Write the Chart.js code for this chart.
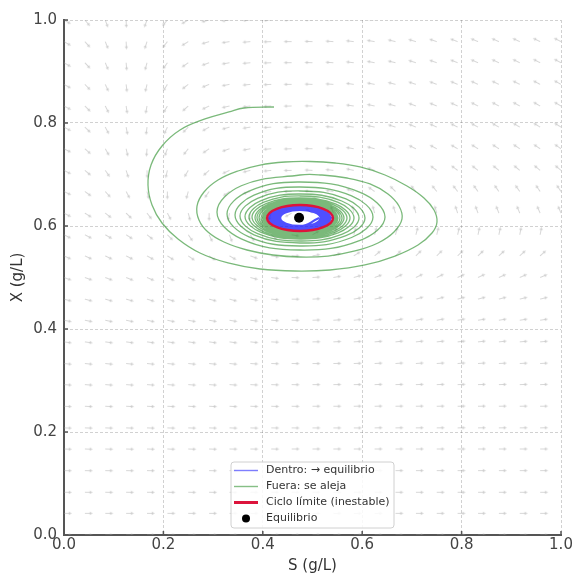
<!DOCTYPE html>
<html>
<head>
<meta charset="utf-8">
<script src="https://cdn.jsdelivr.net/npm/chart.js@4.4.0/dist/chart.umd.min.js"></script>
<style>
  html, body { margin: 0; padding: 0; background: #fff; }
  canvas { display: block; }
</style>
</head>
<body>
<canvas id="phaseChart" width="576" height="575"></canvas>
<script>
// Trayectoria exterior (verde): S y X, en orden de recorrido
const greenS = [
  .4225,.3622,.3320,.2837,.2334,.1972,.1751,.1690,.1771,.1972,.2294,.2736,.3300,.3944,.4648,.5352,.6056,.6660,.7123,
  .7404,.7505,.7445,.7243,.6901,.6459,.5956,.5453,.4950,.4447,.3944,.3501,.3099,.2817,.2676,.2716,.2897,.3219,.3682,.4205,
  .4748,.5312,.5855,.6318,.6640,.6801,.6740,.6519,.6157,.5694,.5191,.4748,
  .3567,.3078,.3567,.4748,.5958,.6459,.5958,.4748,
  .3710,.3280,.3710,.4748,.5787,.6217,.5787,.4748,
  .3823,.3441,.3823,.4748,.5674,.6056,.5674,.4748,
  .3895,.3541,.3895,.4748,.5588,.5936,.5588,.4748,
  .3966,.3642,.3966,.4748,.5517,.5835,.5517,.4748,
  .4022,.3722,.4022,.4748,.5461,.5755,.5461,.4748,
  .4066,.3783,.4066,.4748,.5416,.5694,.5416,.4748,
  .4109,.3843,.4109,.4748,.5374,.5634,.5374,.4748,
  .4137,.3883,.4137,.4748,.5346,.5594,.5346,.4748,
  .4165,.3924,.4165,.4748,.5318,.5553,.5318,.4748,
  .4193,.3964,.4193,.4748,.5290,.5513,.5290,.4748,
  .4215,.3994,.4215,.4748,.5276,.5493,.5276,.4748,
  .4229,.4014,.4229,.4748,.5262,.5473,.5262,.4748,
  .4241,.4030,.4241,.4748,.5249,.5457,.5249,.4748,
  .4252,.4044,.4252,.4748,.5239,.5443,.5239,.4748,
  .4260,.4056,.4260,.4748,.5231,.5433,.5231,.4748
];
const greenX = [
  .8311,.8291,.8214,.8078,.7864,.7553,.7184,.6796,.6408,.6058,.5748,.5476,.5282,.5165,.5126,.5146,.5243,.5417,.5631,
  .5864,.6078,.6311,.6544,.6777,.6990,.7146,.7223,.7252,.7243,.7184,.7068,.6893,.6660,.6388,.6117,.5883,.5689,.5534,.5437,
  .5398,.5417,.5515,.5670,.5883,.6136,.6388,.6621,.6816,.6932,.6990,.6990,
  .6781,.6272,.5750,.5534,.5722,.6175,.6654,.6854,
  .6672,.6233,.5794,.5612,.5777,.6175,.6586,.6757,
  .6598,.6214,.5829,.5670,.5812,.6155,.6526,.6680,
  .6538,.6194,.5850,.5709,.5839,.6155,.6485,.6621,
  .6493,.6184,.5876,.5748,.5868,.6155,.6458,.6583,
  .6462,.6175,.5887,.5767,.5882,.6155,.6429,.6544,
  .6435,.6175,.5901,.5786,.5895,.6155,.6416,.6524,
  .6419,.6165,.5911,.5806,.5909,.6155,.6402,.6505,
  .6406,.6165,.5924,.5816,.5915,.6155,.6388,.6485,
  .6392,.6165,.5922,.5825,.5922,.6155,.6383,.6476,
  .6383,.6155,.5928,.5835,.5928,.6155,.6375,.6466,
  .6375,.6155,.5936,.5845,.5936,.6155,.6369,.6456,
  .6369,.6155,.5942,.5854,.5942,.6155,.6361,.6447,
  .6361,.6155,.5950,.5864,.5950,.6155,.6355,.6437,
  .6355,.6155,.5955,.5874,.5955,.6155,.6348,.6427,
  .6348,.6155,.5961,.5880,.5961,.6155,.6344,.6421
];

// Trayectoria interior (azul): del ciclo hacia el equilibrio
const blueS = [
  .5392,.4748,.4119,.4748,.5363,.4748,.4148,.4748,.5334,.4748,.4177,.4748,.5305,.4748,.4206,.4748,.5276,.4748,.4235,
  .4748,.5247,.4748,.4264,.4748,.5219,.4748,.4293,.4748,.5190,.4748,.4322,.4748,.5160,.4748,.4351,.4748,.5132
];
const blueX = [
  .6155,.6396,.6155,.5920,.6155,.6385,.6155,.5931,.6155,.6375,.6155,.5941,.6155,.6364,.6155,.5951,.6155,.6354,.6155,
  .5962,.6155,.6344,.6155,.5972,.6155,.6333,.6155,.5983,.6155,.6323,.6155,.5993,.6155,.6313,.6155,.6003,.6155
];

// Ciclo limite (cerrado; primer y ultimo tramo solo para las tangentes)
const cycleS = [.5217,.5412,.5217,.4748,.4280,.4085,.4280,.4748,.5217,.5412,.5217];
const cycleX = [.5977,.6155,.6334,.6408,.6334,.6155,.5977,.5903,.5977,.6155,.6334];

// Punto de equilibrio
const eqS = [0.473];
const eqX = [0.616];

// Campo de direcciones: malla y angulos (grados)
const fieldS = [0, .042, .083, .125, .167, .208, .25, .292, .333, .375, .417, .458, .5,
                .542, .583, .625, .667, .708, .75, .792, .833, .875, .917, .958, 1];
const fieldX = [1, .958, .917, .875, .833, .792, .75, .708, .667, .625, .583, .542, .5,
                .458, .417, .375, .333, .292, .25, .208, .167, .125, .083, .042, 0];
const fieldAngles = [
  [330,310,290,272,250,230,210,195,188,184,182,180,178,176,173,170,167,164,162,160,158,157,156,155,154],
  [330,312,292,273,252,232,212,197,189,185,182,180,178,176,173,170,166,163,161,159,157,156,155,154,153],
  [330,313,293,275,255,235,215,200,190,185,182,180,178,176,173,169,166,162,160,158,156,155,154,153,152],
  [331,314,295,277,257,238,218,203,191,186,183,180,178,176,172,169,165,161,159,157,155,154,153,152,151],
  [332,315,297,279,260,240,222,206,193,187,183,181,179,176,172,168,164,159,157,155,153,152,151,150,150],
  [332,316,298,281,263,245,226,210,196,189,184,182,179,176,172,167,162,157,155,153,151,150,149,148,148],
  [333,318,300,283,266,250,232,215,200,191,185,182,179,175,170,165,158,154,152,150,148,147,146,146,145],
  [333,320,305,288,272,257,240,222,205,194,186,181,177,174,168,160,150,145,144,143,142,141,140,140,140],
  [334,324,312,298,284,270,255,235,215,198,188,181,176,170,160,145,135,130,128,127,126,125,125,124,124],
  [332,328,322,316,308,298,285,270,258,262,250,210,150,110,100,105,108,105,106,108,110,111,112,113,113],
  [333,332,330,327,322,315,305,295,290,300,320,350,30,60,72,75,75,75,76,77,78,78,79,79,80],
  [335,335,334,333,331,328,325,325,330,340,350,0,10,22,32,40,44,45,45,44,44,43,43,42,42],
  [340,340,339,338,337,336,336,338,340,345,352,358,4,10,16,20,25,26,26,25,25,24,24,23,23],
  [345,345,344,344,343,343,344,345,345,350,355,0,3,7,10,13,15,16,16,15,15,15,14,14,14],
  [349,349,348,348,348,348,349,350,350,353,356,359,2,4,6,8,10,10,10,10,9,9,9,9,9],
  [352,352,352,352,352,352,352,352,352,354,357,359,1,3,4,5,6,6,6,6,6,6,5,5,5],
  [354,354,354,354,354,354,354,354,354,356,358,359,0,1,2,3,4,4,4,4,4,3,3,3,3],
  [356,356,356,356,356,356,356,356,356,357,358,359,0,1,1,2,2,2,2,2,2,2,2,2,2],
  [357,357,357,357,357,357,357,357,357,358,358,359,0,0,1,1,1,1,1,1,1,1,1,1,1],
  [358,358,358,358,358,358,358,358,358,358,359,359,0,0,0,1,1,1,1,1,1,1,1,1,1],
  [358,358,358,358,358,358,358,358,359,359,359,0,0,0,0,0,0,0,0,0,0,0,0,0,0],
  [359,359,359,359,359,359,359,359,359,359,0,0,0,0,0,0,0,0,0,0,0,0,0,0,0],
  [359,359,359,359,359,359,359,359,0,0,0,0,0,0,0,0,0,0,0,0,0,0,0,0,0],
  [0,0,0,0,0,0,0,0,0,0,0,0,0,0,0,0,0,0,0,0,0,0,0,0,0],
  [0,0,0,0,0,0,0,0,0,0,0,0,0,0,0,0,0,0,0,0,0,0,0,0,0]
];

const axisTicks = [0, 0.2, 0.4, 0.6, 0.8, 1.0];

const toPoints = (xs, ys) => xs.map((x, i) => ({ x: x, y: ys[i] }));

// flecha pequeña, la cola en el centro del lienzo (pivot = tail)
function makeArrow(len) {
  const c = document.createElement("canvas");
  c.width = len * 2 + 2;
  c.height = 7;
  const g = c.getContext("2d");
  const cx = len + 1, cy = 3.5;
  g.strokeStyle = "rgba(160,160,160,0.42)";
  g.fillStyle = "rgba(160,160,160,0.42)";
  g.lineWidth = 1;
  g.beginPath();
  g.moveTo(cx, cy);
  g.lineTo(cx + len - 2.5, cy);
  g.stroke();
  g.beginPath();
  g.moveTo(cx + len, cy);
  g.lineTo(cx + len - 3.2, cy - 1.8);
  g.lineTo(cx + len - 3.2, cy + 1.8);
  g.closePath();
  g.fill();
  return c;
}

const arrowPoints = [];
const arrowRot = [];
fieldX.forEach((xv, r) => {
  fieldS.forEach((sv, c) => {
    arrowPoints.push({ x: sv, y: xv });
    arrowRot.push(-fieldAngles[r][c]);
  });
});

const hidden = "rgba(0,0,0,0)";
const lastCycle = cycleS.length - 1;

// legend entries
const legendItems = [
  { label: "Dentro: → equilibrio", kind: "line", color: "rgba(0,0,255,0.5)", width: 1.4 },
  { label: "Fuera: se aleja", kind: "line", color: "rgba(34,139,34,0.55)", width: 1.4 },
  { label: "Ciclo límite (inestable)", kind: "line", color: "crimson", width: 3 },
  { label: "Equilibrio", kind: "dot", color: "#000", width: 4 }
];

const legendBox = {
  id: "legendBox",
  afterDraw(chart) {
    const { ctx, chartArea } = chart;
    const w = 163, h = 66, rowH = 16;
    const x0 = (chartArea.left + chartArea.right) / 2 - w / 2;
    const y0 = chartArea.bottom - 7 - h;
    ctx.save();
    ctx.beginPath();
    ctx.roundRect(x0, y0, w, h, 3);
    ctx.fillStyle = "rgba(255,255,255,0.85)";
    ctx.fill();
    ctx.strokeStyle = "#d0d0d0";
    ctx.lineWidth = 1;
    ctx.stroke();
    ctx.font = '11px "DejaVu Sans"';
    ctx.textBaseline = "middle";
    legendItems.forEach((it, i) => {
      const y = y0 + 8.5 + rowH * i;
      if (it.kind === "line") {
        ctx.strokeStyle = it.color;
        ctx.lineWidth = it.width;
        ctx.beginPath();
        ctx.moveTo(x0 + 3, y);
        ctx.lineTo(x0 + 27, y);
        ctx.stroke();
      } else {
        ctx.fillStyle = it.color;
        ctx.beginPath();
        ctx.arc(x0 + 15, y, it.width, 0, Math.PI * 2);
        ctx.fill();
      }
      ctx.fillStyle = "#333";
      ctx.fillText(it.label, x0 + 35, y);
    });
    ctx.restore();
  }
};

// ticks hacia dentro, estilo matplotlib
const innerTicks = {
  id: "innerTicks",
  afterDraw(chart) {
    const { ctx, chartArea, scales } = chart;
    ctx.save();
    ctx.strokeStyle = "#555";
    ctx.lineWidth = 1.5;
    axisTicks.forEach(v => {
      const px = scales.x.getPixelForValue(v);
      const py = scales.y.getPixelForValue(v);
      ctx.beginPath();
      ctx.moveTo(px, chartArea.bottom);
      ctx.lineTo(px, chartArea.bottom - 4);
      ctx.moveTo(chartArea.left, py);
      ctx.lineTo(chartArea.left + 4, py);
      ctx.stroke();
    });
    ctx.restore();
  }
};

const tickFont = { family: "DejaVu Sans", size: 15 };

new Chart(document.getElementById("phaseChart").getContext("2d"), {
  type: "scatter",
  data: {
    datasets: [
      {
        label: "Equilibrio",
        data: toPoints(eqS, eqX),
        pointRadius: 5,
        pointBackgroundColor: "#000",
        pointBorderWidth: 0,
        order: 0
      },
      {
        type: "line",
        label: "Ciclo límite (inestable)",
        data: toPoints(cycleS, cycleX),
        borderColor: "crimson",
        borderWidth: 2.5,
        pointRadius: 0,
        tension: 0.4,
        fill: false,
        segment: {
          borderColor: c => (c.p0DataIndex === 0 || c.p1DataIndex === lastCycle) ? hidden : undefined
        },
        order: 1
      },
      {
        type: "line",
        label: "Dentro: → equilibrio",
        data: toPoints(blueS, blueX),
        borderColor: "rgba(20,20,255,0.75)",
        borderWidth: 2,
        pointRadius: 0,
        tension: 0.55,
        fill: false,
        order: 2
      },
      {
        type: "line",
        label: "Fuera: se aleja",
        data: toPoints(greenS, greenX),
        borderColor: "rgba(34,139,34,0.6)",
        borderWidth: 1.3,
        pointRadius: 0,
        tension: 0.4,
        fill: false,
        order: 3
      },
      {
        label: "campo",
        data: arrowPoints,
        pointStyle: makeArrow(8),
        pointRadius: 3,
        rotation: arrowRot,
        order: 4
      }
    ]
  },
  options: {
    responsive: false,
    animation: false,
    events: [],
    layout: { padding: { top: 20, right: 15, left: 0, bottom: 0 } },
    plugins: {
      legend: { display: false },
      tooltip: { enabled: false }
    },
    scales: {
      x: {
        type: "linear",
        min: 0,
        max: 1,
        ticks: { stepSize: 0.2, callback: v => v.toFixed(1), color: "#444", font: tickFont, padding: 1, maxRotation: 0 },
        grid: { color: "rgba(0,0,0,0.18)", lineWidth: 1, drawTicks: false },
        border: { display: true, color: "#555", width: 2, dash: [3, 2] },
        title: { display: true, text: "S (g/L)", color: "#333", font: tickFont, padding: { top: 0, bottom: 0 } },
        afterFit: s => { s.height = 40; }
      },
      y: {
        type: "linear",
        min: 0,
        max: 1,
        ticks: { stepSize: 0.2, callback: v => v.toFixed(1), color: "#444", font: tickFont, padding: 7 },
        grid: { color: "rgba(0,0,0,0.18)", lineWidth: 1, drawTicks: false },
        border: { display: true, color: "#555", width: 2, dash: [3, 2] },
        title: { display: true, text: "X (g/L)", color: "#333", font: tickFont, padding: { top: 9, bottom: 0 } },
        afterFit: s => { s.width = 64; }
      }
    }
  },
  plugins: [innerTicks, legendBox]
});
</script>
</body>
</html>
